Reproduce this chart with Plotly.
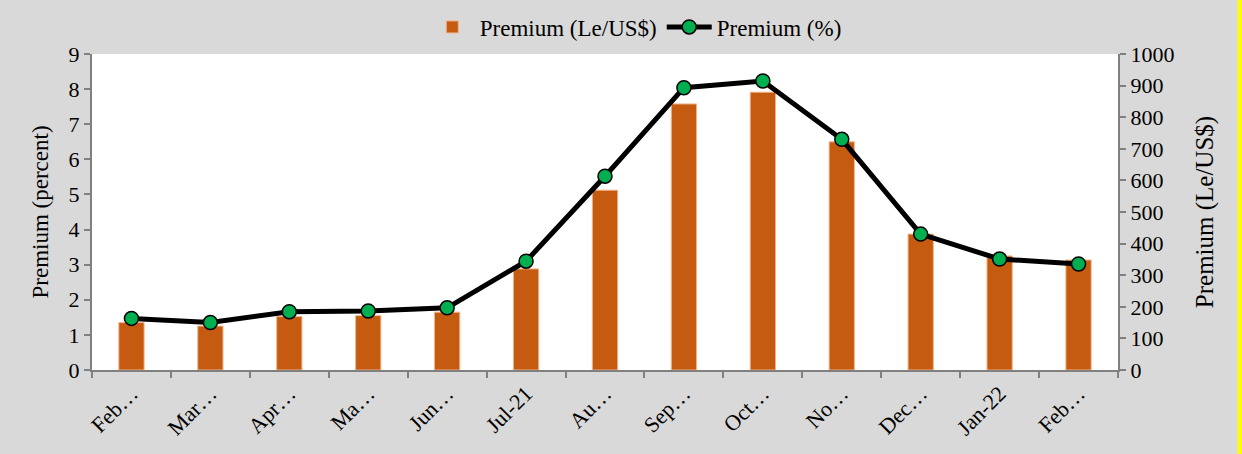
import plotly.graph_objects as go

categories = ["Feb-21", "Mar-21", "Apr-21", "May-21", "Jun-21", "Jul-21", "Aug-21",
              "Sep-21", "Oct-21", "Nov-21", "Dec-21", "Jan-22", "Feb-22"]
tick_labels = ["Feb…", "Mar…", "Apr…", "Ma…", "Jun…", "Jul-21", "Au…",
               "Sep…", "Oct…", "No…", "Dec…", "Jan-22", "Feb…"]
premium_le = [150, 139, 169, 172, 183, 320, 569, 842, 879, 722, 430, 361, 348]
premium_pct = [1.47, 1.35, 1.66, 1.68, 1.77, 3.10, 5.52, 8.04, 8.23, 6.57, 3.87, 3.16, 3.02]

FONT = "'Liberation Serif', 'Times New Roman', Tinos, 'DejaVu Serif', serif"
AXC = "#808080"

fig = go.Figure()
fig.add_trace(go.Bar(
    x=categories, y=premium_le, name="Premium (Le/US$)", yaxis="y",
    marker=dict(color="#C55A11", line=dict(color="#F0B48A", width=1)),
))
fig.add_trace(go.Scatter(
    x=categories, y=premium_pct, name="Premium (%)", yaxis="y2",
    mode="lines+markers",
    line=dict(color="black", width=5),
    marker=dict(color="#00B050", size=14, line=dict(color="black", width=1.5)),
))

fig.update_layout(
    width=1242, height=454, autosize=False,
    paper_bgcolor="#D9D9D9", plot_bgcolor="white",
    margin=dict(l=92, r=124, t=54, b=84, autoexpand=False),
    font=dict(family=FONT, size=22, color="black"),
    bargap=0.68,
    showlegend=True,
    legend=dict(orientation="h", x=0.53, xanchor="center",
                y=(316 + 27) / 316, yanchor="middle", bgcolor="rgba(0,0,0,0)",
                font=dict(family=FONT, size=23), traceorder="normal",
                itemwidth=45),
    xaxis=dict(
        type="category", tickmode="array", tickvals=categories, ticktext=tick_labels,
        range=[-0.5, len(categories) - 0.5],
        tickangle=-45, showline=True, linecolor=AXC, linewidth=2,
        ticks="outside", tickson="boundaries", ticklen=6, tickcolor=AXC, tickwidth=1.5,
        showgrid=False, tickfont=dict(family=FONT, size=22), automargin=False,
    ),
    yaxis=dict(
        side="right", range=[0, 1000], dtick=100, showgrid=False, zeroline=False,
        showline=True, linecolor=AXC, linewidth=2, ticks="outside", ticklen=6,
        tickcolor=AXC, tickwidth=1.5, tickfont=dict(family=FONT, size=22),
        automargin=False,
        title=dict(text="Premium (Le/US$)", font=dict(family=FONT, size=25), standoff=22),
    ),
    yaxis2=dict(
        overlaying="y", side="left", range=[0, 9], dtick=1, showgrid=False, zeroline=False,
        showline=True, linecolor=AXC, linewidth=2, ticks="outside", ticklen=6,
        tickcolor=AXC, tickwidth=1.5, tickfont=dict(family=FONT, size=22),
        automargin=False,
        title=dict(text="Premium (percent)", font=dict(family=FONT, size=23), standoff=14),
    ),
)

# yellow screenshot edge on the right
fig.add_shape(type="rect", xref="paper", yref="paper",
              x0=(1237.5 - 92) / 1026, x1=(1245 - 92) / 1026,
              y0=-84 / 316, y1=(316 + 54) / 316,
              fillcolor="#FFFF00", line=dict(width=0), layer="above")

fig.write_html("out.html", config={"displayModeBar": False},
               post_script="document.body.style.margin='0';document.body.style.padding='0';")
